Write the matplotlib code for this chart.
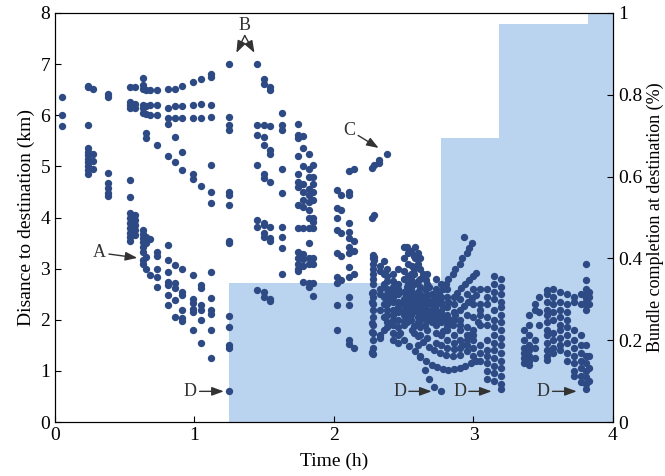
import numpy as np
import matplotlib

matplotlib.use("Agg")

import matplotlib.pyplot as plt

# ==================================================
# DATA
# ==================================================

# vertical stacks of points: (time, [distances])
cols_early = [
    (0.05, [6.35, 6.0, 5.78]),
    (0.24, [6.58, 6.55, 5.8, 5.35, 5.28, 5.22, 5.15, 5.08, 5.0, 4.92, 4.86]),
    (0.27, [6.52, 5.25, 5.1, 4.95]),
    (0.38, [6.42, 6.35, 4.88, 4.68, 4.58, 4.48, 4.42]),
    (0.54, [6.56, 6.25, 6.2, 6.15, 4.73, 4.4, 4.08, 4.0, 3.9, 3.8, 3.7, 3.62, 3.55]),
    (0.57, [6.56, 6.22, 6.15, 4.05, 3.95, 3.85, 3.75, 3.66]),
    (0.63, [6.73, 6.6, 6.52, 6.2, 6.15, 6.05, 3.75, 3.68, 3.6, 3.52, 3.42, 3.32, 3.17, 3.1]),
    (0.65, [6.5, 6.18, 6.02, 5.65, 5.55, 3.62, 3.5, 3.22, 3.0]),
    (0.68, [6.5, 6.2, 6.0, 3.58, 2.88]),
    (0.73, [6.5, 6.2, 6.0, 5.42, 3.33, 3.25, 3.0, 2.84, 2.65]),
    (0.81, [6.52, 6.15, 5.95, 5.82, 5.2, 3.46, 3.17, 2.94, 2.74, 2.68, 2.48, 2.29]),
    (0.86, [6.52, 6.18, 5.95, 5.58, 5.08, 3.07, 2.72, 2.62, 2.39, 2.06]),
    (0.91, [6.58, 6.18, 5.95, 5.28, 4.93, 2.99, 2.54, 2.48, 2.19, 2.03, 1.98]),
    (0.99, [6.65, 6.2, 5.95, 4.85, 4.75, 2.88, 2.4, 2.32, 2.22, 2.15, 1.8]),
    (1.05, [6.7, 6.22, 5.95, 4.62, 2.68, 2.62, 2.29, 2.2, 2.0, 1.55]),
    (1.12, [6.8, 6.75, 6.2, 5.97, 5.02, 4.5, 4.28, 2.93, 2.42, 2.2, 2.12, 1.8, 1.25]),
    (1.25, [7.0, 5.97, 5.8, 5.72, 4.5, 4.45, 4.25, 3.55, 3.5, 2.07, 1.86, 1.5, 1.45, 0.6]),
]

cols_middle = [
    (1.45, [7.0, 5.8, 5.62, 5.02, 3.95, 3.82, 2.58]),
    (1.5, [6.7, 6.62, 5.8, 5.58, 5.42, 4.85, 4.78, 3.9, 3.85, 3.7, 3.62, 2.55, 2.45]),
    (1.54, [6.55, 6.5, 5.78, 5.32, 5.25, 4.7, 3.82, 3.6, 3.55, 2.4, 2.37]),
    (1.63, [6.05, 5.8, 5.72, 4.95, 4.48, 3.82, 3.62, 3.4, 2.89]),
    (1.74, [5.82, 5.62, 5.55, 5.2, 4.85, 4.7, 4.6, 4.25, 3.8, 3.33, 3.2, 3.1, 3.0, 2.95]),
    (1.78, [5.6, 5.35, 5.0, 4.65, 4.5, 4.35, 4.2, 3.8, 3.28, 3.18, 3.05, 2.74]),
    (1.82, [5.25, 4.95, 4.8, 4.55, 4.45, 4.3, 4.15, 4.0, 3.8, 3.5, 3.2, 3.1, 2.72, 2.65]),
    (1.85, [5.02, 4.8, 4.65, 4.5, 4.35, 4.0, 3.92, 3.8, 3.2, 3.1, 2.72, 2.47]),
    (2.02, [4.54, 4.19, 4.0, 3.76, 3.31, 2.84, 2.72, 2.29, 1.8]),
    (2.05, [4.45, 4.15, 3.7, 3.25, 2.78]),
    (2.11, [4.9, 4.5, 4.44, 3.9, 3.72, 3.6, 3.43, 3.3, 3.03, 2.84, 2.45, 2.29, 1.6, 1.52]),
    (2.14, [4.95, 3.55, 3.35, 2.9, 1.45]),
    (2.27, [4.97, 4.0, 2.52, 2.35, 1.94, 1.76, 1.37, 1.35]),
    (2.29, [5.03, 4.05, 3.23, 3.17]),
    (2.32, [5.13, 5.06]),
    (2.38, [5.24]),
]

cols_late = [
    (2.28, [3.27, 3.2, 3.1, 3.0, 2.9, 2.8, 2.7, 2.55, 2.45, 2.3, 2.2, 2.05, 1.9, 1.75, 1.6, 1.45, 1.34]),
    (2.33, [3.05, 2.95, 2.6, 2.5, 2.2, 1.7, 1.65]),
    (2.36, [3.15, 2.9, 2.7, 2.45, 2.3, 2.05, 1.8]),
    (2.38, [3.0, 2.85, 2.75, 2.6, 2.5, 2.4, 2.3, 2.2, 2.1, 1.95, 1.85]),
    (2.42, [2.9, 2.75, 2.65, 2.55, 2.45, 2.35, 2.2, 2.1, 2.0, 1.9, 1.75, 1.6]),
    (2.46, [3.0, 2.7, 2.6, 2.5, 2.35, 2.25, 2.15, 2.0, 1.85, 1.7, 1.55]),
    (2.5, [3.2, 2.95, 2.8, 2.55, 2.4, 2.3, 2.2, 2.1, 1.98, 1.9]),
    (2.53, [3.3, 3.1, 2.85, 2.7, 2.5, 2.35, 2.25, 2.15, 2.05]),
    (2.55, [2.8, 2.6, 2.45, 2.3, 2.2, 2.1, 2.0]),
    (2.57, [3.0, 2.9, 2.7, 2.5, 2.4, 2.28, 2.18, 1.88, 1.75]),
    (2.6, [2.75, 2.55, 2.45, 2.35, 2.25, 2.15, 2.05, 1.95]),
    (2.62, [3.2, 2.8, 2.65, 2.5, 2.4, 2.3, 2.2, 2.1, 2.0, 1.85, 1.7]),
    (2.65, [2.6, 2.45, 2.35, 2.25, 2.15, 2.05, 1.9]),
    (2.67, [2.9, 2.7, 2.5, 2.4, 2.3, 2.2, 2.1, 2.0, 1.8, 1.65]),
    (2.7, [2.5, 2.35, 2.3, 2.2, 2.1, 1.95]),
    (2.73, [2.8, 2.6, 2.4, 2.28, 2.2, 2.0, 1.9, 1.75, 1.55]),
    (2.77, [2.7, 2.45, 2.35, 2.15, 2.05, 1.95, 1.7, 1.5]),
    (2.81, [2.6, 2.45, 2.25, 2.1, 1.95, 1.8, 1.6, 1.45]),
    (2.86, [2.3, 2.15, 2.0, 1.7, 1.55, 1.42]),
    (2.9, [2.4, 2.0, 1.9, 1.6, 1.45]),
    (2.95, [2.5, 2.1, 1.85, 1.5]),
    (3.0, [2.6, 2.3, 2.05, 1.7, 1.3]),
    (3.05, [2.6, 2.2, 1.9, 1.35, 1.2]),
    (3.1, [2.6, 2.45, 2.3, 2.05, 1.9, 1.6, 1.3, 1.15, 1.0, 0.85]),
    (3.15, [2.85, 2.7, 2.55, 2.4, 2.2, 2.0, 1.85, 1.7, 1.55, 1.4, 1.25, 1.1, 0.95, 0.8]),
    (3.2, [2.8, 2.65, 2.5, 2.35, 2.25, 2.1, 1.95, 1.8, 1.65, 1.5, 1.35, 1.2, 1.05, 0.9, 0.75, 0.65]),
    (3.36, [1.8, 1.6, 1.45, 1.35, 1.25, 1.15]),
    (3.4, [2.1, 1.9, 1.7, 1.5, 1.4, 1.3, 1.2, 1.12]),
    (3.44, [2.3, 2.2, 1.6, 1.45, 1.25]),
    (3.47, [2.45, 2.15, 1.9]),
    (3.53, [2.58, 2.5, 2.35, 2.2, 2.1, 1.95, 1.8, 1.7, 1.55, 1.4, 1.3, 1.22]),
    (3.57, [2.6, 2.45, 2.3, 2.15, 2.0, 1.75, 1.6, 1.45, 1.35]),
    (3.62, [2.55, 2.35, 2.2, 2.05, 1.9, 1.8, 1.65, 1.5, 1.4]),
    (3.67, [2.5, 2.3, 2.15, 2.0, 1.85, 1.7, 1.55, 1.35, 1.2]),
    (3.72, [2.45, 2.35, 1.8, 1.6, 1.45, 1.3, 1.15, 1.0, 0.9]),
    (3.77, [2.5, 2.3, 1.7, 1.5, 1.35, 1.2, 1.05, 0.9, 0.78]),
    (3.81, [3.1, 2.78, 2.6, 2.5, 2.42, 2.35, 2.28, 2.2, 1.5, 1.3, 1.15, 1.0, 0.88, 0.75, 0.65]),
    (3.83, [2.55, 2.45, 2.3, 1.3, 1.05, 0.8]),
]

# slanted runs of points inside the dense cluster: (time, distance)
runs = [
    # upper left diagonal
    (2.5, 3.43), (2.52, 3.42), (2.55, 3.35), (2.57, 3.25), (2.6, 3.1), (2.62, 3.0),
    (2.64, 2.9), (2.66, 2.78), (2.68, 2.65), (2.72, 2.45), (2.74, 2.35),
    (2.58, 3.42), (2.6, 3.3), (2.58, 3.2), (2.56, 3.05), (2.55, 2.9), (2.52, 2.65),
    # lower arc
    (2.47, 1.75), (2.5, 1.6), (2.54, 1.48), (2.58, 1.38), (2.62, 1.28), (2.66, 1.2),
    (2.7, 1.12), (2.74, 1.07), (2.78, 1.03), (2.82, 1.02), (2.86, 1.03), (2.9, 1.06),
    (2.94, 1.1), (2.98, 1.15), (3.02, 1.2),
    # upper arc
    (2.52, 1.95), (2.56, 1.8), (2.6, 1.68), (2.64, 1.56), (2.68, 1.47), (2.72, 1.4),
    (2.76, 1.35), (2.8, 1.32), (2.85, 1.3), (2.9, 1.32), (2.95, 1.38), (3.0, 1.45),
    # run ending at D
    (2.6, 1.5), (2.62, 1.3), (2.65, 1.02), (2.68, 0.85), (2.72, 0.69), (2.77, 0.61),
    # lines from upper right
    (2.93, 3.62), (2.99, 3.5), (2.97, 3.4), (2.95, 3.3), (2.92, 3.2), (2.9, 3.1),
    (2.87, 3.0), (2.85, 2.9), (2.82, 2.8), (2.8, 2.7), (2.78, 2.6), (2.75, 2.5),
    (3.02, 2.91), (3.0, 2.85), (2.97, 2.78), (2.94, 2.7), (2.91, 2.62), (2.88, 2.53),
    (2.86, 2.45), (2.82, 2.35), (2.78, 2.25), (2.74, 2.15), (2.7, 2.06),
    (3.02, 2.49), (2.99, 2.42), (2.96, 2.35), (2.93, 2.27), (2.9, 2.2), (2.87, 2.1),
    (2.84, 2.0), (2.81, 1.87), (2.78, 1.78),
    (3.05, 2.3), (3.05, 2.1), (3.03, 1.95), (3.0, 1.8), (2.97, 1.7), (2.95, 1.6),
    (2.92, 1.5),
    # down-right line through the cluster
    (2.6, 2.4), (2.65, 2.3), (2.7, 2.2), (2.75, 2.1), (2.8, 2.0), (2.85, 1.9),
    (2.9, 1.8), (2.95, 1.7), (3.0, 1.6), (3.05, 1.5), (3.1, 1.4),
]

# bundle completion step (right axis)
step_t = [1.25, 2.77, 3.18, 3.82, 4.0]
step_v = [0.34, 0.695, 0.973, 1.0, 1.0]

# ==================================================
# FLATTEN POINTS
# ==================================================

pts_t = []
pts_d = []
for t, ds in cols_early + cols_middle + cols_late:
    for d in ds:
        pts_t.append(t)
        pts_d.append(d)
for t, d in runs:
    pts_t.append(t)
    pts_d.append(d)

# ==================================================
# FIGURE
# ==================================================

plt.rcParams["font.family"] = ["Liberation Serif", "DejaVu Serif"]

fig = plt.figure(figsize=(6.65, 4.76), dpi=100)
ax1 = fig.add_axes([0.0827, 0.1134, 0.8391, 0.8593])
ax2 = ax1.twinx()

ax2.fill_between(
    step_t,
    step_v,
    0,
    step="post",
    color="#bad4f0",
    linewidth=0
)
ax2.set_ylim(0, 1)
ax2.set_yticks([0, 0.2, 0.4, 0.6, 0.8, 1.0])
ax2.set_yticklabels(["0", "0.2", "0.4", "0.6", "0.8", "1"])
ax2.set_ylabel("Bundle completion at destination (%)", fontsize=13, labelpad=3)

ax1.set_zorder(ax2.get_zorder() + 1)
ax1.patch.set_visible(False)

ax1.scatter(
    pts_t,
    pts_d,
    s=28,
    color="#2e4a85",
    linewidths=0,
    zorder=3
)

ax1.set_xlim(0, 4)
ax1.set_ylim(0, 8)
ax1.set_xticks([0, 1, 2, 3, 4])
ax1.set_yticks(range(9))
ax1.set_xlabel("Time (h)", fontsize=14, labelpad=6)
ax1.set_ylabel("Disance to destination (km)", fontsize=14)

for ax in (ax1, ax2):
    ax.tick_params(direction="in", labelsize=14, length=4)

# ==================================================
# ANNOTATIONS
# ==================================================

arrow = dict(arrowstyle="-|>,head_length=0.6,head_width=0.22", color="#333333",
             lw=1, mutation_scale=12, shrinkA=0, shrinkB=0)

ax1.annotate("A", xy=(0.59, 3.21), xytext=(0.32, 3.31), fontsize=13,
             ha="center", va="center", arrowprops=arrow, color="#333333")
ax1.text(1.36, 7.76, "B", fontsize=13, ha="center", va="center", color="#333333")
ax1.annotate("", xy=(1.3, 7.22), xytext=(1.36, 7.56), arrowprops=arrow)
ax1.annotate("", xy=(1.43, 7.22), xytext=(1.36, 7.56), arrowprops=arrow)
ax1.annotate("C", xy=(2.32, 5.36), xytext=(2.11, 5.71), fontsize=13,
             ha="center", va="center", arrowprops=arrow, color="#333333")
for tx, hx in [(0.97, 1.21), (2.47, 2.70), (2.90, 3.13), (3.50, 3.74)]:
    ax1.annotate("D", xy=(hx, 0.6), xytext=(tx, 0.6), fontsize=13,
                 ha="center", va="center", arrowprops=arrow, color="#333333")

fig.savefig("out.png", dpi=100)
plt.close()
